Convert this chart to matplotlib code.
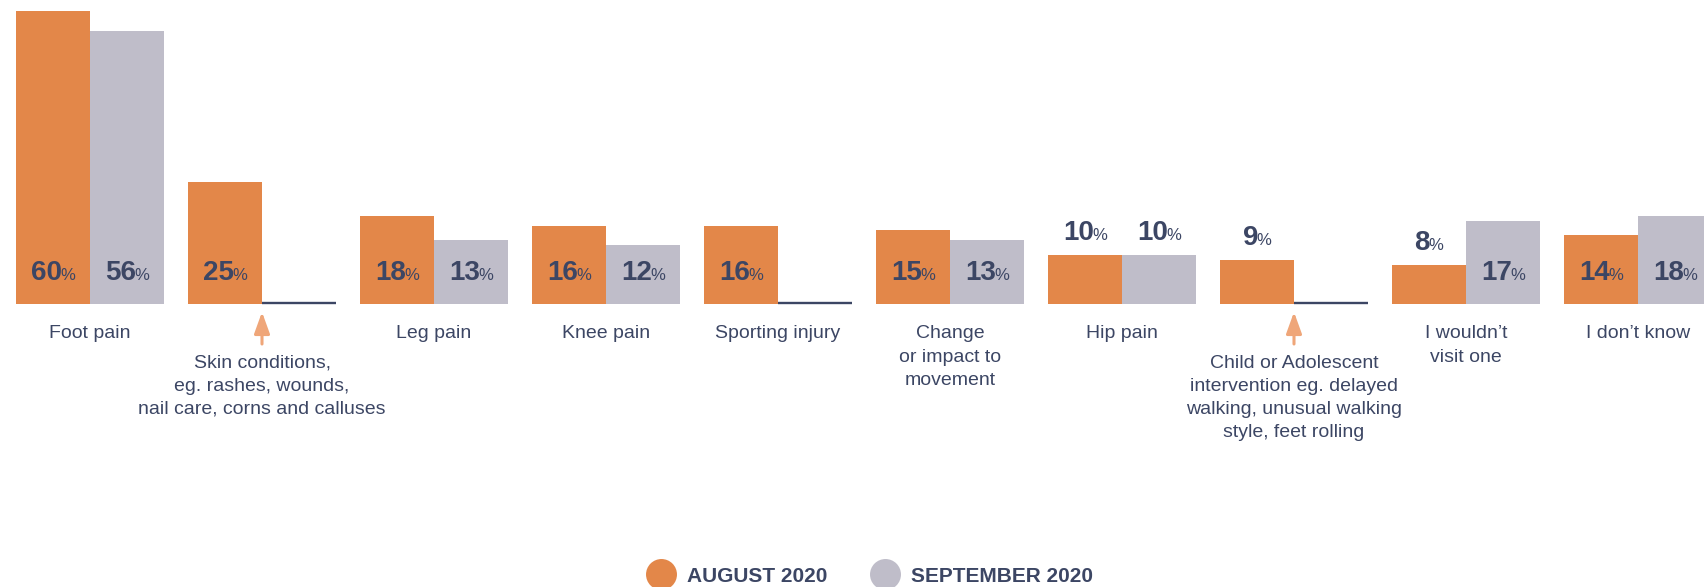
import matplotlib
matplotlib.use("Agg")
import matplotlib.pyplot as plt
from matplotlib.lines import Line2D
from matplotlib.transforms import offset_copy

# ---- data -------------------------------------------------------------
categories = [
    "Foot pain",
    "Skin conditions,\neg. rashes, wounds,\nnail care, corns and calluses",
    "Leg pain",
    "Knee pain",
    "Sporting injury",
    "Change\nor impact to\nmovement",
    "Hip pain",
    "Child or Adolescent\nintervention eg. delayed\nwalking, unusual walking\nstyle, feet rolling",
    "I wouldn\u2019t\nvisit one",
    "I don\u2019t know",
]
august = [60, 25, 18, 16, 16, 15, 10, 9, 8, 14]
september = [56, 0, 13, 12, 0, 13, 10, 0, 17, 18]
series_names = ["AUGUST 2020", "SEPTEMBER 2020"]
pointer_categories = [1, 7]

# ---- style ------------------------------------------------------------
ORANGE = "#E38749"
GREY = "#BFBDC9"
NAVY = "#3C4664"
ARROW = "#EFA679"
FONT = "Liberation Sans"
plt.rcParams["font.family"] = [FONT, "DejaVu Sans"]

W, H, DPI = 1704, 587, 100
PITCH = 172.0            # pixels per category group
BAR_PX = 74.0            # pixels per bar
FIRST_CENTER = 90.0      # pixel x of first group centre
BASE_PX = 303.5          # baseline, pixels from top
PX_PER_UNIT = 4.87       # pixels per percentage point

fig = plt.figure(figsize=(W / DPI, H / DPI), dpi=DPI)
ax = fig.add_axes([0, 0, 1, 1])
ax.set_xlim(-FIRST_CENTER / PITCH, (W - FIRST_CENTER) / PITCH)
ax.set_ylim(-(H - BASE_PX) / PX_PER_UNIT, BASE_PX / PX_PER_UNIT)
ax.axis("off")

bw = BAR_PX / PITCH
x = list(range(len(categories)))
x_aug = [i - bw / 2 for i in x]
x_sep = [i + bw / 2 for i in x]

ax.bar(x_aug, august, width=bw, color=ORANGE, linewidth=0)
ax.bar(x_sep, september, width=bw, color=GREY, linewidth=0)

# empty September entries shown as a thin baseline stroke
for xs, v in zip(x_sep, september):
    if v == 0:
        ax.hlines(0.2, xs - bw / 2, xs + bw / 2, color=NAVY, lw=1.7)

renderer = fig.canvas.get_renderer()


def value_label(xc, value):
    if value == 0:
        return
    inside = value >= 11
    y = 0 if inside else value
    dy = 23 if inside else 15
    t1 = ax.annotate(f"{value}", xy=(xc, y), xytext=(0, dy),
                     textcoords="offset pixels", ha="left", va="baseline",
                     fontsize=20, fontweight="bold", color=NAVY)
    t2 = ax.annotate("%", xy=(xc, y), xytext=(0, dy),
                     textcoords="offset pixels", ha="left", va="baseline",
                     fontsize=12, color=NAVY)
    w1 = t1.get_window_extent(renderer).width
    w2 = t2.get_window_extent(renderer).width
    gap = -1.5
    total = w1 + gap + w2
    t1.set_position((-total / 2, dy))
    t2.set_position((-total / 2 + w1 + gap, dy))


for xs, v in zip(x_aug, august):
    value_label(xs, v)
for xs, v in zip(x_sep, september):
    value_label(xs, v)

# category labels, with pointer arrows where needed
for i, name in enumerate(categories):
    top = 51 if i in pointer_categories else 22
    ax.annotate(name, xy=(i, 0), xytext=(0, -top), textcoords="offset pixels",
                ha="center", va="top", fontsize=14, color=NAVY,
                linespacing=1.47, multialignment="center")
    if i in pointer_categories:
        tip = offset_copy(ax.transData, fig=fig, x=0, y=-8.5, units="dots")
        ax.annotate("", xy=(i, 0), xycoords=tip, xytext=(0, -32),
                    textcoords="offset pixels",
                    arrowprops=dict(arrowstyle="-|>,head_length=1.3,head_width=0.47",
                                    color=ARROW, lw=2.2, shrinkA=0, shrinkB=0))

# legend
handles = [
    Line2D([], [], marker="o", linestyle="none", markersize=22.3,
           markerfacecolor=c, markeredgewidth=0)
    for c in (ORANGE, GREY)
]
leg = fig.legend(handles, series_names, loc="center", ncol=2, frameon=False,
                 bbox_to_anchor=(0.510, 11 / H), handlelength=1.5,
                 handletextpad=0.5, columnspacing=2.0, borderpad=0,
                 prop=dict(family=FONT, size=15, weight="bold"))
for t in leg.get_texts():
    t.set_color(NAVY)

fig.savefig("out.png", dpi=DPI)
